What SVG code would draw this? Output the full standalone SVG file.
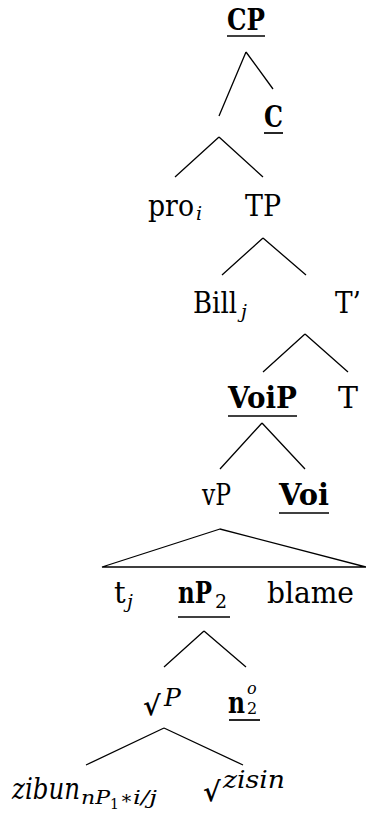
<svg xmlns="http://www.w3.org/2000/svg" width="366" height="816" viewBox="0 0 366 816">
  <style>
    text { font-family: "DejaVu Serif", "Liberation Serif", serif; font-size: 29px; fill: #000; }
    .b { font-weight: bold; }
    .i { font-style: italic; }
    .n { font-weight: normal; font-style: normal; }
    .sub { font-size: 19px; }
    .sm { font-size: 16px; }
    .tiny { font-size: 14px; }
    .rad { font-size: 27px; }
    .sup { font-size: 25px; }
    .edge { stroke: #000; stroke-width: 1.3; fill: none; }
    .ul { stroke: #000; stroke-width: 1.7; }
  </style>
  <rect width="366" height="816" fill="#fff"/>

  <g id="connectors">
    <path class="edge" d="M246 52 L219 116 M246 52 L273 89"/>
    <path class="edge" d="M219 137 L175 177 M219 137 L263 177"/>
    <path class="edge" d="M263 238 L222 275 M263 238 L306 275"/>
    <path class="edge" d="M305 334 L263 372 M305 334 L348 372"/>
    <path class="edge" d="M262 423 L220 469 M262 423 L305 469"/>
    <path class="edge" d="M220 529 L102 567 L366 567 Z"/>
    <path class="edge" d="M204 631 L164 667 M204 631 L246 667"/>
    <path class="edge" d="M164 728 L86 765 M164 728 L243 765"/>
  </g>

  <g id="node-cp">
    <text class="b" x="227" y="30" textLength="38" lengthAdjust="spacingAndGlyphs">CP</text>
    <line class="ul" x1="227" y1="36" x2="265" y2="36"/>
  </g>
  <g id="node-c">
    <text class="b" x="264" y="127" textLength="19" lengthAdjust="spacingAndGlyphs">C</text>
    <line class="ul" x1="264" y1="133" x2="283" y2="133"/>
  </g>
  <g id="node-pro">
    <text x="148" y="216"><tspan textLength="46" lengthAdjust="spacingAndGlyphs">pro</tspan><tspan class="i sub" x="196" y="220">i</tspan></text>
  </g>
  <g id="node-tp">
    <text x="245" y="216" textLength="36" lengthAdjust="spacingAndGlyphs">TP</text>
  </g>
  <g id="node-bill">
    <text x="193" y="313"><tspan textLength="44" lengthAdjust="spacingAndGlyphs">Bill</tspan><tspan class="i sub" x="241" y="318">j</tspan></text>
  </g>
  <g id="node-tbar">
    <text x="335" y="313" textLength="26" lengthAdjust="spacingAndGlyphs">T’</text>
  </g>
  <g id="node-voip">
    <text class="b" x="228" y="408" textLength="69" lengthAdjust="spacingAndGlyphs">VoiP</text>
    <line class="ul" x1="228" y1="416" x2="297" y2="416"/>
  </g>
  <g id="node-t">
    <text x="338" y="408" textLength="20" lengthAdjust="spacingAndGlyphs">T</text>
  </g>
  <g id="node-vp">
    <text x="202" y="505" textLength="29" lengthAdjust="spacingAndGlyphs">vP</text>
  </g>
  <g id="node-voi">
    <text class="b" x="279" y="505" textLength="50" lengthAdjust="spacingAndGlyphs">Voi</text>
    <line class="ul" x1="279" y1="513" x2="329" y2="513"/>
  </g>
  <g id="node-tj">
    <text x="114" y="603">t<tspan class="i sub" x="127" y="608">j</tspan></text>
  </g>
  <g id="node-np2">
    <text x="178" y="603"><tspan class="b" textLength="34" lengthAdjust="spacingAndGlyphs">nP</tspan><tspan class="sub" x="215" y="608">2</tspan></text>
    <line class="ul" x1="178" y1="617" x2="230" y2="617"/>
  </g>
  <g id="node-blame">
    <text x="267" y="603" textLength="87" lengthAdjust="spacingAndGlyphs">blame</text>
  </g>
  <g id="node-rootp">
    <text x="143" y="715"><tspan class="b rad">√</tspan><tspan class="i sup" x="164" y="706">P</tspan></text>
  </g>
  <g id="node-n2">
    <text x="228" y="713"><tspan class="b" textLength="17" lengthAdjust="spacingAndGlyphs">n</tspan><tspan class="i sm" x="247" y="694">o</tspan><tspan class="sm" x="247" y="714">2</tspan></text>
    <line class="ul" x1="229" y1="720" x2="260" y2="720"/>
  </g>
  <g id="node-zibun">
    <text class="i" x="12" y="799"><tspan textLength="68" lengthAdjust="spacingAndGlyphs">zibun</tspan><tspan class="sub" x="81" y="804" textLength="29" lengthAdjust="spacingAndGlyphs">nP</tspan><tspan class="tiny n" x="110" y="809">1</tspan><tspan class="sub n" x="120" y="804">∗</tspan><tspan class="sub" x="133" y="804" textLength="24" lengthAdjust="spacingAndGlyphs">i/j</tspan></text>
  </g>
  <g id="node-zisin">
    <text x="203" y="801"><tspan class="b rad">√</tspan><tspan class="i sup" x="223" y="788" textLength="62" lengthAdjust="spacingAndGlyphs">zisin</tspan></text>
  </g>
</svg>
